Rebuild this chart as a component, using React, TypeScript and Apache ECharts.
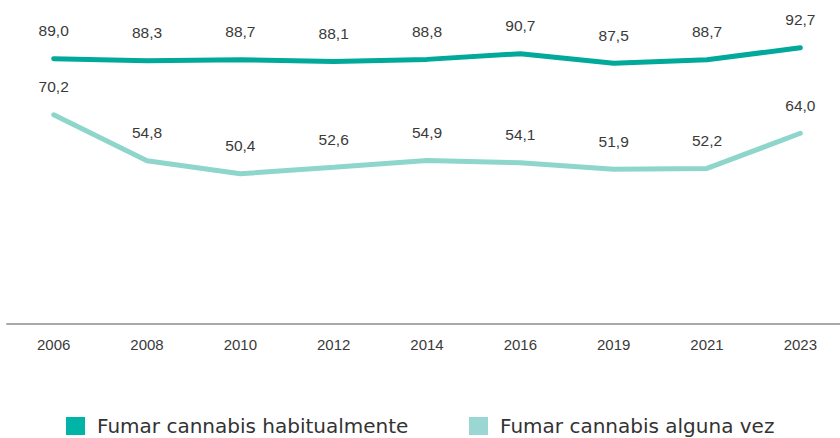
import React, { useEffect, useRef } from "react";
import * as echarts from "echarts";

const years = ["2006", "2008", "2010", "2012", "2014", "2016", "2019", "2021", "2023"];
const habitual = [89.0, 88.3, 88.7, 88.1, 88.8, 90.7, 87.5, 88.7, 92.7];
const algunaVez = [70.2, 54.8, 50.4, 52.6, 54.9, 54.1, 51.9, 52.2, 64.0];
const seriesNames = ["Fumar cannabis habitualmente", "Fumar cannabis alguna vez"];
const seriesColors = ["#00a99a", "#8ed6cc"];
const legendColors = ["#00b5a8", "#9ad7d3"];

export default function App() {
  const ref = useRef<HTMLDivElement>(null);
  useEffect(() => {
    if (!ref.current) return;
    const chart = echarts.init(ref.current, undefined, { renderer: "svg" });
    const labelCfg = {
      show: true,
      position: "top",
      distance: 20,
      fontFamily: "Liberation Sans, Arial, sans-serif",
      fontSize: 15.5,
      color: "#3a3a3a",
      formatter: (p: any) => Number(p.value).toFixed(1).replace(".", ","),
    };
    const legendBase = {
      top: 411,
      icon: "rect",
      itemWidth: 19,
      itemHeight: 18,
      textStyle: { fontFamily: "DejaVu Sans", fontSize: 20, color: "#333", padding: [0, 0, 0, 7] },
    };
    chart.setOption({
      animation: false,
      grid: { left: 7, right: 3, top: 26, bottom: 114, containLabel: false },
      legend: [
        { ...legendBase, left: 61, data: [{ name: seriesNames[0], itemStyle: { color: legendColors[0] } }] },
        { ...legendBase, left: 464, data: [{ name: seriesNames[1], itemStyle: { color: legendColors[1] } }] },
      ],
      xAxis: {
        type: "category",
        data: years,
        boundaryGap: true,
        axisLine: { lineStyle: { color: "#a8a8a8", width: 2 } },
        axisTick: { show: false },
        axisLabel: {
          fontFamily: "Liberation Sans, Arial, sans-serif",
          fontSize: 15,
          color: "#3a3a3a",
          margin: 13,
        },
      },
      yAxis: {
        type: "value",
        min: 0,
        max: 100,
        show: false,
        splitLine: { show: false },
      },
      series: [habitual, algunaVez].map((d, i) => ({
        name: seriesNames[i],
        type: "line",
        data: d,
        symbol: "circle",
        symbolSize: 0,
        showSymbol: true,
        lineStyle: { color: seriesColors[i], width: 5, cap: "round" },
        itemStyle: { color: legendColors[i] },
        label: labelCfg,
      })),
    });
    return () => chart.dispose();
  }, []);
  return (
    <div
      ref={ref}
      style={{ position: "fixed", left: 0, top: 0, width: 850, height: 438, background: "#fff" }}
    />
  );
}
